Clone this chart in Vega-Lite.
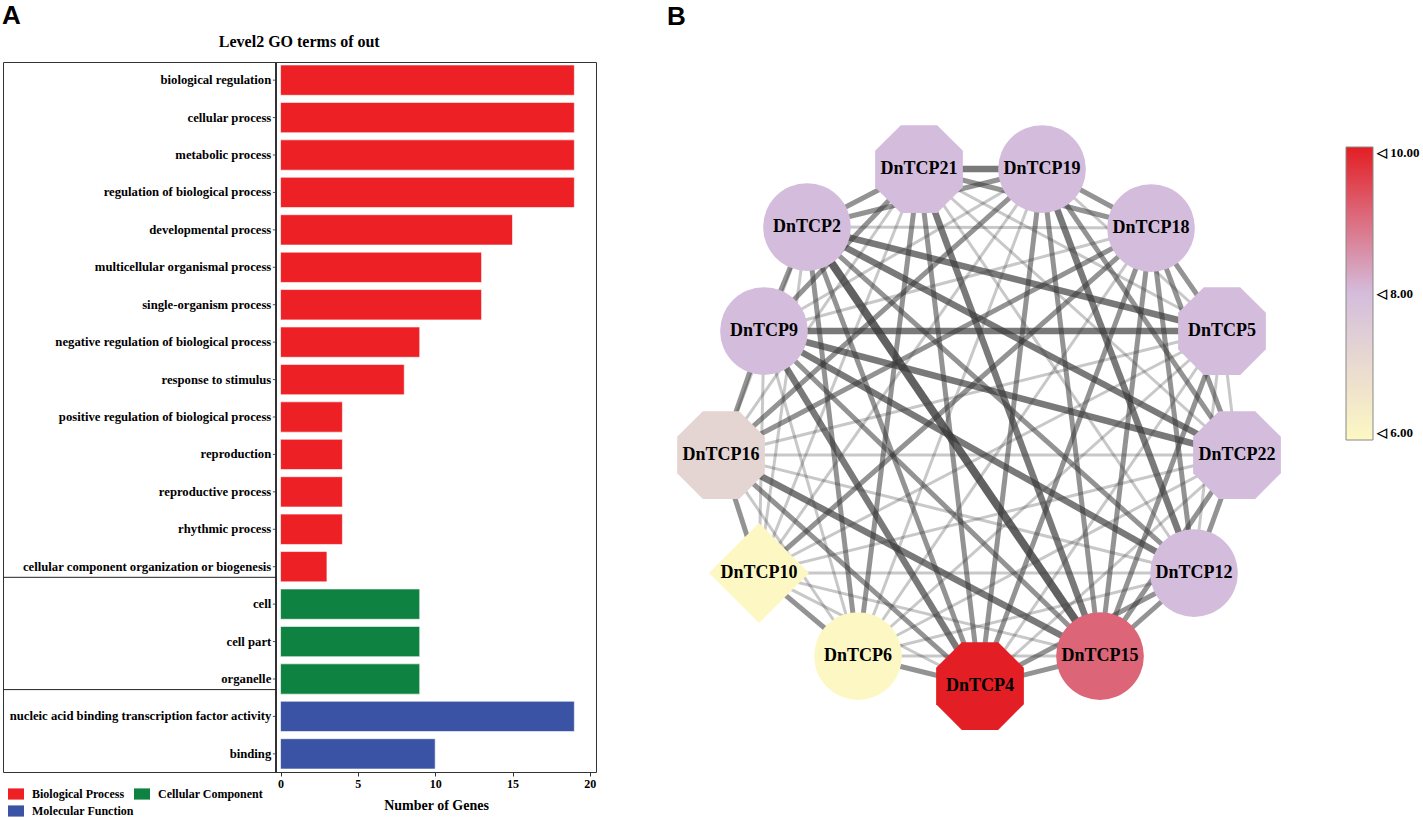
{
  "$schema": "https://vega.github.io/schema/vega-lite/v6.json",
  "padding": {"left": 2, "top": 3, "right": 0, "bottom": 0},
  "background": "white",
  "config": {
    "view": {"stroke": null},
    "concat": {"spacing": 70},
    "font": "Liberation Serif"
  },
  "datasets": {
    "go": [
      {"term": "biological regulation", "category": "Biological Process", "genes": 19},
      {"term": "cellular process", "category": "Biological Process", "genes": 19},
      {"term": "metabolic process", "category": "Biological Process", "genes": 19},
      {"term": "regulation of biological process", "category": "Biological Process", "genes": 19},
      {"term": "developmental process", "category": "Biological Process", "genes": 15},
      {"term": "multicellular organismal process", "category": "Biological Process", "genes": 13},
      {"term": "single-organism process", "category": "Biological Process", "genes": 13},
      {"term": "negative regulation of biological process", "category": "Biological Process", "genes": 9},
      {"term": "response to stimulus", "category": "Biological Process", "genes": 8},
      {"term": "positive regulation of biological process", "category": "Biological Process", "genes": 4},
      {"term": "reproduction", "category": "Biological Process", "genes": 4},
      {"term": "reproductive process", "category": "Biological Process", "genes": 4},
      {"term": "rhythmic process", "category": "Biological Process", "genes": 4},
      {"term": "cellular component organization or biogenesis", "category": "Biological Process", "genes": 3},
      {"term": "cell", "category": "Cellular Component", "genes": 9},
      {"term": "cell part", "category": "Cellular Component", "genes": 9},
      {"term": "organelle", "category": "Cellular Component", "genes": 9},
      {"term": "nucleic acid binding transcription factor activity", "category": "Molecular Function", "genes": 19},
      {"term": "binding", "category": "Molecular Function", "genes": 10}
    ],
    "nodes": [
      {"id": "DnTCP21", "x": -60, "y": 263, "kind": "octagon", "score": 8},
      {"id": "DnTCP19", "x": 63, "y": 263, "kind": "circle", "score": 8},
      {"id": "DnTCP2", "x": -172, "y": 205, "kind": "circle", "score": 8},
      {"id": "DnTCP18", "x": 172, "y": 204, "kind": "circle", "score": 8},
      {"id": "DnTCP9", "x": -215, "y": 101, "kind": "circle", "score": 8},
      {"id": "DnTCP5", "x": 243, "y": 101, "kind": "octagon", "score": 8},
      {"id": "DnTCP16", "x": -258, "y": -23, "kind": "octagon", "score": 7.2},
      {"id": "DnTCP22", "x": 258, "y": -23, "kind": "octagon", "score": 8},
      {"id": "DnTCP10", "x": -220, "y": -141, "kind": "diamond", "score": 6},
      {"id": "DnTCP12", "x": 215, "y": -141, "kind": "circle", "score": 8},
      {"id": "DnTCP6", "x": -121, "y": -224, "kind": "circle", "score": 6},
      {"id": "DnTCP4", "x": 1, "y": -254, "kind": "octagon", "score": 10},
      {"id": "DnTCP15", "x": 121, "y": -224, "kind": "circle", "score": 9.1}
    ],
    "edges": [
      {"s": "DnTCP21", "t": "DnTCP19", "w": 3},
      {"s": "DnTCP21", "t": "DnTCP18", "w": 2},
      {"s": "DnTCP21", "t": "DnTCP5", "w": 1},
      {"s": "DnTCP21", "t": "DnTCP22", "w": 1},
      {"s": "DnTCP21", "t": "DnTCP12", "w": 1},
      {"s": "DnTCP21", "t": "DnTCP15", "w": 3},
      {"s": "DnTCP21", "t": "DnTCP4", "w": 2},
      {"s": "DnTCP21", "t": "DnTCP6", "w": 2},
      {"s": "DnTCP21", "t": "DnTCP10", "w": 1},
      {"s": "DnTCP21", "t": "DnTCP16", "w": 1},
      {"s": "DnTCP21", "t": "DnTCP9", "w": 2},
      {"s": "DnTCP21", "t": "DnTCP2", "w": 2},
      {"s": "DnTCP19", "t": "DnTCP18", "w": 2},
      {"s": "DnTCP19", "t": "DnTCP5", "w": 1},
      {"s": "DnTCP19", "t": "DnTCP22", "w": 2},
      {"s": "DnTCP19", "t": "DnTCP12", "w": 3},
      {"s": "DnTCP19", "t": "DnTCP15", "w": 2},
      {"s": "DnTCP19", "t": "DnTCP4", "w": 2},
      {"s": "DnTCP19", "t": "DnTCP6", "w": 1},
      {"s": "DnTCP19", "t": "DnTCP10", "w": 1},
      {"s": "DnTCP19", "t": "DnTCP16", "w": 2},
      {"s": "DnTCP19", "t": "DnTCP9", "w": 1},
      {"s": "DnTCP19", "t": "DnTCP2", "w": 2},
      {"s": "DnTCP18", "t": "DnTCP5", "w": 2},
      {"s": "DnTCP18", "t": "DnTCP22", "w": 2},
      {"s": "DnTCP18", "t": "DnTCP12", "w": 2},
      {"s": "DnTCP18", "t": "DnTCP15", "w": 2},
      {"s": "DnTCP18", "t": "DnTCP4", "w": 2},
      {"s": "DnTCP18", "t": "DnTCP6", "w": 1},
      {"s": "DnTCP18", "t": "DnTCP10", "w": 2},
      {"s": "DnTCP18", "t": "DnTCP16", "w": 2},
      {"s": "DnTCP18", "t": "DnTCP9", "w": 1},
      {"s": "DnTCP18", "t": "DnTCP2", "w": 1},
      {"s": "DnTCP5", "t": "DnTCP22", "w": 1},
      {"s": "DnTCP5", "t": "DnTCP12", "w": 1},
      {"s": "DnTCP5", "t": "DnTCP15", "w": 2},
      {"s": "DnTCP5", "t": "DnTCP4", "w": 1},
      {"s": "DnTCP5", "t": "DnTCP6", "w": 1},
      {"s": "DnTCP5", "t": "DnTCP10", "w": 1},
      {"s": "DnTCP5", "t": "DnTCP16", "w": 1},
      {"s": "DnTCP5", "t": "DnTCP9", "w": 3},
      {"s": "DnTCP5", "t": "DnTCP2", "w": 3},
      {"s": "DnTCP22", "t": "DnTCP12", "w": 2},
      {"s": "DnTCP22", "t": "DnTCP15", "w": 2},
      {"s": "DnTCP22", "t": "DnTCP4", "w": 1},
      {"s": "DnTCP22", "t": "DnTCP6", "w": 1},
      {"s": "DnTCP22", "t": "DnTCP10", "w": 1},
      {"s": "DnTCP22", "t": "DnTCP16", "w": 1},
      {"s": "DnTCP22", "t": "DnTCP9", "w": 3},
      {"s": "DnTCP22", "t": "DnTCP2", "w": 3},
      {"s": "DnTCP12", "t": "DnTCP15", "w": 2},
      {"s": "DnTCP12", "t": "DnTCP4", "w": 2},
      {"s": "DnTCP12", "t": "DnTCP6", "w": 1},
      {"s": "DnTCP12", "t": "DnTCP10", "w": 1},
      {"s": "DnTCP12", "t": "DnTCP16", "w": 1},
      {"s": "DnTCP12", "t": "DnTCP9", "w": 3},
      {"s": "DnTCP12", "t": "DnTCP2", "w": 2},
      {"s": "DnTCP15", "t": "DnTCP4", "w": 2},
      {"s": "DnTCP15", "t": "DnTCP6", "w": 1},
      {"s": "DnTCP15", "t": "DnTCP10", "w": 1},
      {"s": "DnTCP15", "t": "DnTCP16", "w": 3},
      {"s": "DnTCP15", "t": "DnTCP9", "w": 2},
      {"s": "DnTCP15", "t": "DnTCP2", "w": 4},
      {"s": "DnTCP4", "t": "DnTCP6", "w": 2},
      {"s": "DnTCP4", "t": "DnTCP10", "w": 1},
      {"s": "DnTCP4", "t": "DnTCP16", "w": 2},
      {"s": "DnTCP4", "t": "DnTCP9", "w": 3},
      {"s": "DnTCP4", "t": "DnTCP2", "w": 2},
      {"s": "DnTCP6", "t": "DnTCP10", "w": 2},
      {"s": "DnTCP6", "t": "DnTCP16", "w": 1},
      {"s": "DnTCP6", "t": "DnTCP9", "w": 1},
      {"s": "DnTCP6", "t": "DnTCP2", "w": 2},
      {"s": "DnTCP10", "t": "DnTCP16", "w": 2},
      {"s": "DnTCP10", "t": "DnTCP9", "w": 1},
      {"s": "DnTCP10", "t": "DnTCP2", "w": 1},
      {"s": "DnTCP16", "t": "DnTCP9", "w": 2},
      {"s": "DnTCP16", "t": "DnTCP2", "w": 1},
      {"s": "DnTCP9", "t": "DnTCP2", "w": 2}
    ]
  },
  "resolve": {"scale": {"color": "independent"}, "legend": {"color": "independent"}},
  "hconcat": [
    {
      "title": {"text": "A", "anchor": "start", "font": "Liberation Sans", "fontSize": 26, "fontWeight": "bold", "offset": 4, "frame": "bounds"},
      "vconcat": [
        {
          "width": 593,
          "height": 710,
          "view": {"stroke": "#333", "strokeWidth": 1},
          "title": {"text": "Level2 GO terms of out", "anchor": "middle", "frame": "bounds", "font": "Liberation Serif", "fontSize": 16, "fontWeight": "bold", "offset": 12},
          "data": {"name": "go"},
          "encoding": {
            "y": {
              "field": "term", "type": "nominal", "sort": null, "axis": null,
              "scale": {
                "domain": ["biological regulation", "cellular process", "metabolic process", "regulation of biological process", "developmental process", "multicellular organismal process", "single-organism process", "negative regulation of biological process", "response to stimulus", "positive regulation of biological process", "reproduction", "reproductive process", "rhythmic process", "cellular component organization or biogenesis", "cell", "cell part", "organelle", "nucleic acid binding transcription factor activity", "binding"],
                "paddingInner": 0.19, "paddingOuter": 0.08
              }
            }
          },
          "layer": [
            {
              "mark": {"type": "bar", "stroke": "#ffffff", "strokeWidth": 1, "strokeOpacity": 0.6},
              "encoding": {
                "x": {
                  "field": "genes", "type": "quantitative",
                  "scale": {"domain": [-17.95, 20.4], "nice": false, "zero": false},
                  "axis": {
                    "values": [0, 5, 10, 15, 20], "domain": false, "grid": false,
                    "tickSize": 4, "tickColor": "#333", "labelPadding": 2,
                    "labelFont": "Liberation Serif", "labelFontWeight": "bold", "labelFontSize": 12, "labelColor": "#000",
                    "title": "Number of Genes", "titleFont": "Liberation Serif", "titleFontWeight": "bold", "titleFontSize": 14, "titleColor": "#000",
                    "titleX": 433, "titlePadding": 9
                  }
                },
                "color": {
                  "field": "category", "type": "nominal",
                  "scale": {"domain": ["Biological Process", "Cellular Component", "Molecular Function"], "range": ["#ED2026", "#0E8341", "#3A53A4"]},
                  "legend": {
                    "orient": "none", "legendX": 5, "legendY": 724, "columns": 2, "direction": "horizontal", "title": null,
                    "symbolType": "M-1,-0.7H1V0.7H-1Z", "symbolSize": 256, "symbolStrokeWidth": 0,
                    "labelFont": "Liberation Serif", "labelFontWeight": "bold", "labelFontSize": 12,
                    "columnPadding": 0, "rowPadding": 3, "labelOffset": 8,
                    "encode": {"labels": {"update": {"fill": {"signal": "datum.value === 'Biological Process' ? '#ED2026' : datum.value === 'Cellular Component' ? '#0E8341' : '#3A53A4'"}}}}
                  }
                }
              }
            },
            {
              "mark": {"type": "text", "align": "right", "baseline": "middle", "font": "Liberation Serif", "fontWeight": "bold", "fontSize": 12.7, "color": "#000"},
              "encoding": {
                "x": {"datum": -0.6, "type": "quantitative"},
                "text": {"field": "term"}
              }
            },
            {
              "mark": {"type": "rule", "color": "#555", "strokeWidth": 1},
              "encoding": {
                "x": {"datum": -0.5, "type": "quantitative"},
                "x2": {"datum": -0.3}
              }
            },
            {
              "mark": {"type": "rule", "color": "#333", "strokeWidth": 1},
              "encoding": {"x": {"datum": -0.3, "type": "quantitative"}, "y": null}
            },
            {
              "transform": [{"filter": {"field": "term", "oneOf": ["cellular component organization or biogenesis", "organelle"]}}],
              "mark": {"type": "rule", "color": "#222", "strokeWidth": 1},
              "encoding": {
                "y": {"field": "term", "type": "nominal", "bandPosition": 0.85},
                "x": {"datum": -17.95, "type": "quantitative"},
                "x2": {"datum": -0.3}
              }
            }
          ]
        }
      ]
    },
    {
      "title": {"text": "B", "anchor": "start", "font": "Liberation Sans", "fontSize": 26, "fontWeight": "bold", "offset": 32, "frame": "group"},
      "width": 630,
      "height": 730,
      "layer": [
        {
          "data": {"name": "edges"},
          "transform": [
            {"lookup": "s", "from": {"data": {"name": "nodes"}, "key": "id", "fields": ["x", "y"]}, "as": ["x1", "y1"]},
            {"lookup": "t", "from": {"data": {"name": "nodes"}, "key": "id", "fields": ["x", "y"]}, "as": ["xe", "ye"]}
          ],
          "mark": {"type": "rule", "color": "#3a3a3a", "strokeCap": "butt"},
          "encoding": {
            "x": {"field": "x1", "type": "quantitative", "scale": {"domain": [-312, 318], "nice": false, "zero": false}, "axis": null},
            "y": {"field": "y1", "type": "quantitative", "scale": {"domain": [-360, 370], "nice": false, "zero": false}, "axis": null},
            "x2": {"field": "xe"},
            "y2": {"field": "ye"},
            "strokeWidth": {"field": "w", "type": "quantitative", "scale": {"domain": [1, 2, 3, 4], "range": [3, 5, 6.5, 8]}, "legend": null},
            "opacity": {"field": "w", "type": "quantitative", "scale": {"domain": [1, 2, 3, 4], "range": [0.28, 0.55, 0.68, 0.8]}, "legend": null}
          }
        },
        {
          "data": {"name": "nodes"},
          "mark": {"type": "point", "filled": true, "opacity": 1, "strokeWidth": 0},
          "encoding": {
            "x": {"field": "x", "type": "quantitative"},
            "y": {"field": "y", "type": "quantitative"},
            "shape": {"field": "kind", "type": "nominal", "scale": {"domain": ["circle", "octagon", "diamond"], "range": ["circle", "M-0.414,-1L0.414,-1L1,-0.414L1,0.414L0.414,1L-0.414,1L-1,0.414L-1,-0.414Z", "diamond"]}, "legend": null},
            "size": {"condition": {"test": "datum.kind === 'diamond'", "value": 10000}, "value": 7700},
            "color": {
              "field": "score", "type": "quantitative",
              "scale": {"domain": [6, 8, 10], "range": ["#FDF8C3", "#D4BDDC", "#E31E24"], "interpolate": "rgb"},
              "legend": {
                "orient": "none", "legendX": 679, "legendY": 85, "direction": "vertical", "title": null,
                "gradientLength": 293, "gradientThickness": 27, "values": [6, 8, 10],
                "gradientStrokeColor": "#888", "gradientStrokeWidth": 1,
                "labelFont": "Liberation Serif", "labelFontWeight": "bold", "labelFontSize": 13, "labelColor": "#000",
                "labelExpr": "'◁ ' + format(datum.value, '.2f')", "labelOffset": 4
              }
            }
          }
        },
        {
          "data": {"name": "nodes"},
          "mark": {"type": "text", "font": "Liberation Serif", "fontWeight": "bold", "fontSize": 18, "color": "#000", "baseline": "middle", "align": "center"},
          "encoding": {
            "x": {"field": "x", "type": "quantitative"},
            "y": {"field": "y", "type": "quantitative"},
            "text": {"field": "id"}
          }
        }
      ]
    }
  ]
}
